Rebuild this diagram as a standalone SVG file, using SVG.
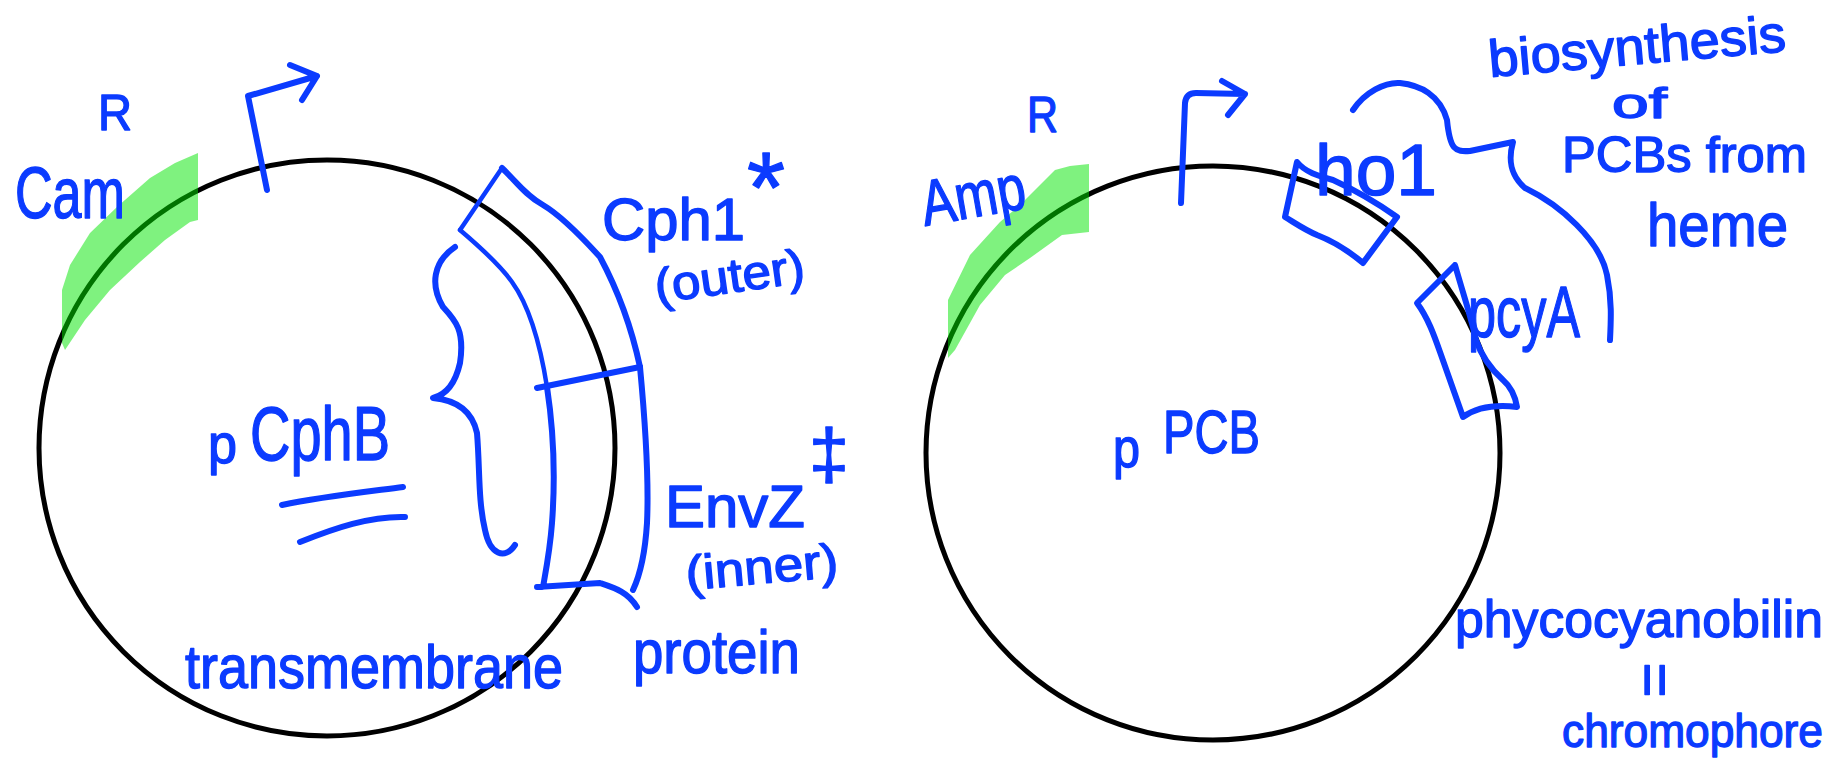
<svg xmlns="http://www.w3.org/2000/svg" width="1847" height="765" viewBox="0 0 1847 765">
<style>
.plasmid{fill:none;stroke:#000;stroke-width:5}
.res{fill:#00e600;opacity:.5}
.ink{fill:none;stroke:#0b3bff;stroke-width:6;stroke-linecap:round;stroke-linejoin:round}
.thin{stroke-width:4.5}
.hw{font-family:"Liberation Sans",Arial,sans-serif;fill:#0b3bff;stroke:#0b3bff;stroke-width:1.4;stroke-linejoin:round}
</style>
<rect width="1847" height="765" fill="#fff"/>

<g id="plasmid-pCphB">
  <circle class="plasmid" cx="327" cy="448" r="288"/>
  <path class="res" d="M62,343 L62,290 L70,265 L90,233 L117,207 L150,178 L175,163 L198,153 L198,220 L190,222 L165,240 L140,262 L110,290 L85,320 L65,350 Z"/>
  <text class="hw" x="208" y="463" font-size="55" textLength="29" lengthAdjust="spacingAndGlyphs">p</text>
  <text class="hw" x="250" y="460" font-size="76" textLength="140" lengthAdjust="spacingAndGlyphs">CphB</text>
  <path class="ink" d="M282,505 C320,497 365,492 403,487"/>
  <path class="ink" d="M300,542 C335,528 370,516 405,517"/>
</g>

<g id="camR">
  <text class="hw" x="15" y="218" font-size="72" textLength="110" lengthAdjust="spacingAndGlyphs">Cam</text>
  <text class="hw" x="98" y="130" font-size="50" textLength="34" lengthAdjust="spacingAndGlyphs">R</text>
</g>

<g id="promoter-left">
  <path class="ink" d="M267,190 L248,96 L317,76 M290,65 L317,76 L302,100"/>
</g>

<g id="cph1-envz">
  <path class="ink thin" d="M460,230 L502,168"/>
  <path class="ink thin" d="M460,230 C480,247 500,265 512,282 C525,300 538,330 547,387"/>
  <path class="ink" d="M502,168 C515,180 525,195 543,205 C560,215 580,235 600,257 C615,285 630,320 640,367"/>
  <path class="ink" d="M537,388 L640,367"/>
  <path class="ink" d="M547,387 C552,420 556,470 552,523 C550,550 546,570 543,587 L537,587 L600,583 C615,588 628,592 637,607"/>
  <path class="ink" d="M640,367 C645,420 649,480 647,523 C645,555 640,575 633,590"/>
  <text class="hw" x="602" y="240" font-size="60" textLength="143" lengthAdjust="spacingAndGlyphs">Cph1</text>
  <text class="hw" x="747" y="222" font-size="100" textLength="38" lengthAdjust="spacingAndGlyphs">*</text>
  <text class="hw" x="657" y="303" font-size="48" textLength="151" lengthAdjust="spacingAndGlyphs" transform="rotate(-8 657 303)">(outer)</text>
  <text class="hw" x="665" y="527" font-size="60" textLength="140" lengthAdjust="spacingAndGlyphs">EnvZ</text>
  <text class="hw" x="809" y="478" font-size="70" textLength="40" lengthAdjust="spacingAndGlyphs">‡</text>
  <text class="hw" x="687" y="590" font-size="48" textLength="153" lengthAdjust="spacingAndGlyphs" transform="rotate(-5 687 590)">(inner)</text>
  <text class="hw" x="633" y="673" font-size="62" textLength="167" lengthAdjust="spacingAndGlyphs">protein</text>
</g>

<g id="transmembrane-label">
  <text class="hw" x="185" y="688" font-size="62" textLength="378" lengthAdjust="spacingAndGlyphs">transmembrane</text>
</g>

<g id="plasmid-pPCB">
  <circle class="plasmid" cx="1213" cy="453" r="287"/>
  <path class="res" d="M948,358 L948,300 L970,255 L1000,222 L1020,205 L1055,170 L1070,166 L1089,164 L1089,232 L1062,235 L1030,258 L1005,275 L980,305 L955,350 Z"/>
  <text class="hw" x="1113" y="467" font-size="55" textLength="27" lengthAdjust="spacingAndGlyphs">p</text>
  <text class="hw" x="1163" y="453" font-size="62" textLength="97" lengthAdjust="spacingAndGlyphs">PCB</text>
</g>

<g id="ampR">
  <text class="hw" x="925" y="226" font-size="64" textLength="105" lengthAdjust="spacingAndGlyphs" transform="rotate(-10 925 226)">Amp</text>
  <text class="hw" x="1027" y="132" font-size="50" textLength="31" lengthAdjust="spacingAndGlyphs">R</text>
</g>

<g id="promoter-right">
  <path class="ink" d="M1181,203 L1185,103 Q1186,93 1196,93 L1245,94 M1222,81 L1245,94 L1228,115"/>
</g>

<g id="ho1">
  <path class="ink" d="M1297,162 C1305,172 1318,176 1333,180 C1355,190 1380,205 1397,217 L1363,263 C1350,252 1335,242 1317,235 C1305,230 1295,223 1285,217 Z"/>
  <text class="hw" x="1315" y="195" font-size="72" textLength="122" lengthAdjust="spacingAndGlyphs">ho1</text>
</g>

<g id="pcyA">
  <path class="ink" d="M1455,265 L1417,303 C1428,318 1434,335 1440,352 L1463,417 C1480,405 1500,405 1517,407 C1515,395 1510,386 1503,380 C1492,370 1482,358 1476,340 C1472,320 1465,300 1455,265 Z"/>
  <text class="hw" x="1468" y="337" font-size="72" textLength="112" lengthAdjust="spacingAndGlyphs">pcyA</text>
</g>

<g id="biosynthesis-note">
  <text class="hw" x="1490" y="77" font-size="52" textLength="298" lengthAdjust="spacingAndGlyphs" transform="rotate(-5 1490 77)">biosynthesis</text>
  <text class="hw" x="1612" y="118" font-size="42" textLength="55" lengthAdjust="spacingAndGlyphs">of</text>
  <text class="hw" x="1562" y="172" font-size="50" textLength="245" lengthAdjust="spacingAndGlyphs">PCBs from</text>
  <text class="hw" x="1647" y="246" font-size="62" textLength="141" lengthAdjust="spacingAndGlyphs">heme</text>
</g>

<g id="chromophore-note">
  <text class="hw" x="1455" y="637" font-size="52" textLength="368" lengthAdjust="spacingAndGlyphs">phycocyanobilin</text>
  <text class="hw" x="0" y="19" font-size="60" text-anchor="middle" transform="translate(1654 680) rotate(90)">=</text>
  <text class="hw" x="1562" y="747" font-size="47" textLength="261" lengthAdjust="spacingAndGlyphs">chromophore</text>
</g>

<g id="connectors">
  <path class="ink" d="M455,247 C433,262 430,285 443,307 C455,320 465,330 460,363 C455,385 445,395 433,398 C455,400 472,410 477,433 C480,470 478,500 485,530 C490,555 505,560 515,545"/>
  <path class="ink" d="M1353,110 C1365,92 1385,82 1400,83 C1420,85 1440,95 1447,120 C1450,150 1455,152 1470,151 L1513,142 C1508,160 1510,175 1525,188 C1560,205 1600,240 1607,275 C1612,300 1611,320 1610,340"/>
</g>
</svg>
